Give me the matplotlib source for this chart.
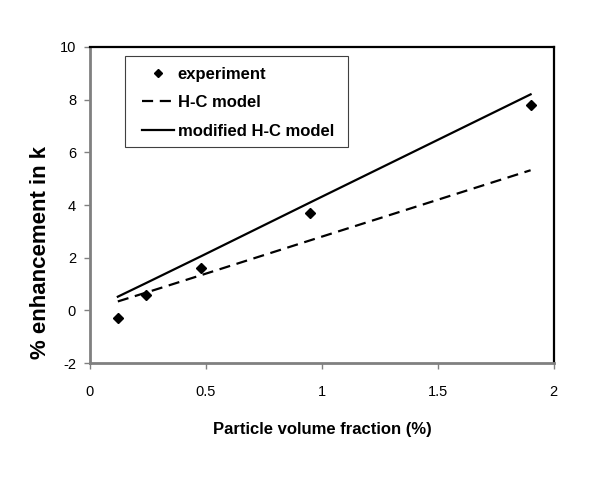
import matplotlib
matplotlib.use("Agg")
from matplotlib import pyplot as plt
from matplotlib.patches import Rectangle

plt.rcParams['font.family'] = ['Liberation Sans', 'DejaVu Sans']

# data
vol_frac = [0.12, 0.24, 0.48, 0.95, 1.9]
experiment = [-0.3, 0.6, 1.6, 3.7, 7.8]
hc_model = [0.34, 0.67, 1.34, 2.66, 5.32]
mod_hc_model = [0.52, 1.03, 2.06, 4.1, 8.2]

x_ticks = [0, 0.5, 1, 1.5, 2]
x_labels = ['0', '0.5', '1', '1.5', '2']
y_ticks = [-2, 0, 2, 4, 6, 8, 10]
y_labels = ['-2', '0', '2', '4', '6', '8', '10']

fig = plt.figure(figsize=(6, 4.79), dpi=100)
ax = fig.add_axes([0.15, 0.242, 0.773, 0.66])

ax.plot(vol_frac, experiment, 'D', color='black', markersize=5.3, label='experiment', zorder=3)
ax.plot(vol_frac, hc_model, '--', color='black', linewidth=1.6, dashes=(5, 3), label='H-C model')
ax.plot(vol_frac, mod_hc_model, '-', color='black', linewidth=1.6, label='modified H-C model')

ax.set_xlim(0, 2)
ax.set_ylim(-2, 10)
ax.set_xticks(x_ticks)
ax.set_xticklabels(x_labels)
ax.set_yticks(y_ticks)
ax.set_yticklabels(y_labels)

for s in ['left', 'bottom']:
    ax.spines[s].set_color('#808080')
    ax.spines[s].set_linewidth(2)
for s in ['top', 'right']:
    ax.spines[s].set_color('black')
    ax.spines[s].set_linewidth(1.6)
ax.tick_params(axis='both', colors='#808080', labelcolor='black', labelsize=10.5,
               length=4, width=1, direction='out')
ax.tick_params(axis='x', pad=12)
ax.tick_params(axis='y', pad=6)

ax.set_xlabel('Particle volume fraction (%)', fontsize=12, fontweight='bold', labelpad=16)
ax.set_ylabel('% enhancement in k', fontsize=16, fontweight='bold')
ax.yaxis.set_label_coords(-0.085, 0.351)

# legend box drawn separately, entries placed inside it
ax.add_patch(Rectangle((0.075, 0.684), 0.481, 0.288, transform=ax.transAxes,
                       facecolor='white', edgecolor='#404040', linewidth=0.8, zorder=4))
leg = ax.legend(loc='upper left', bbox_to_anchor=(0.112, 0.937), frameon=False,
                prop={'size': 12, 'weight': 'bold'}, borderpad=0, borderaxespad=0,
                handlelength=1.9, handletextpad=0.25, labelspacing=0.8, markerscale=0.75)
leg.set_zorder(5)

plt.savefig('out.png', dpi=100)
